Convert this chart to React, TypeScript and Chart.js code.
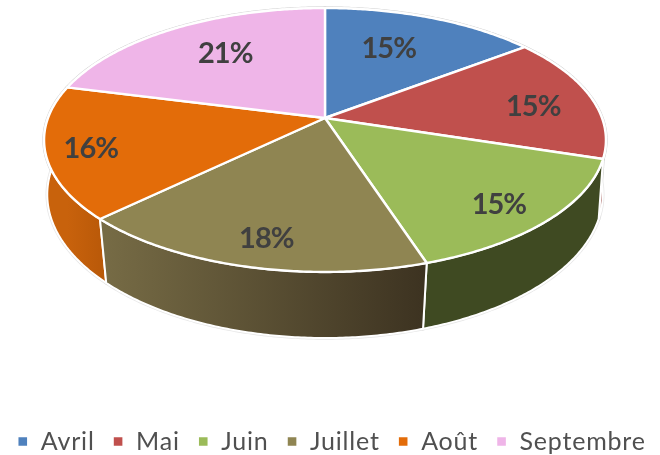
import React, { useEffect, useRef } from "react";
import { Chart, registerables } from "chart.js";

Chart.register(...registerables);

const months = ["Avril", "Mai", "Juin", "Juillet", "Août", "Septembre"];
const shares = [14.6, 15.3, 15.1, 17.75, 16.25, 21];
const topColors = ["#4F81BD", "#C0504D", "#9BBB59", "#8F8552", "#E36C09", "#EFB5E8"];
const wallStart = ["#3F6290", "#93403D", "#3F4A22", "#766B45", "#C8620C", "#B88AB0"];
const wallEnd = ["#3F6290", "#93403D", "#3F4A22", "#3D3321", "#B85808", "#B88AB0"];

// Perspective of the tilted disc
const CX = 325;
type Rim = { a: number; b: number; c: number; p: number };
const TOP: Rim = { a: 277, b: 128.3, c: 118, p: -1 / 6 };
const BOTTOM: Rim = { a: 275, b: 140.7, c: 174.4, p: -0.14 };
const LABEL_RADIUS = 0.7;
const LABEL_NUDGE: [number, number][] = [
  [-14, 4],
  [21, 4],
  [24, 18],
  [-6, 22],
  [-41, 7],
  [9, 1],
];

function project(rim: Rim, angle: number, r = 1): [number, number] {
  const x = Math.cos(angle) * r;
  const y = Math.sin(angle) * r;
  const d = 1 + rim.p * y;
  return [CX + (rim.a * x) / d, rim.c + (rim.b * y) / d];
}

function rimPath(rim: Rim, from: number, to: number): [number, number][] {
  const n = Math.max(2, Math.ceil(Math.abs(to - from) / 0.01));
  const pts: [number, number][] = [];
  for (let i = 0; i <= n; i++) pts.push(project(rim, from + ((to - from) * i) / n));
  return pts;
}

function trace(ctx: CanvasRenderingContext2D, pts: [number, number][]) {
  ctx.beginPath();
  pts.forEach(([x, y], i) => (i ? ctx.lineTo(x, y) : ctx.moveTo(x, y)));
  ctx.closePath();
}

const discPlugin = {
  id: "disc",
  beforeLayout(chart: any) {
    chart.ctx.letterSpacing = "0.8px";
  },
  beforeDatasetsDraw(chart: any) {
    const ctx: CanvasRenderingContext2D = chart.ctx;
    const arcs: any[] = chart.getDatasetMeta(0).data;
    ctx.save();
    ctx.lineJoin = "round";

    const walls = arcs.map((arc, i) => {
      const top = rimPath(TOP, arc.startAngle, arc.endAngle);
      const bottom = rimPath(BOTTOM, arc.endAngle, arc.startAngle);
      return { i, pts: [...top, ...bottom], mid: Math.sin((arc.startAngle + arc.endAngle) / 2) };
    });
    const faces = arcs.map((arc) => [
      project(TOP, 0, 0),
      ...rimPath(TOP, arc.startAngle, arc.endAngle),
    ] as [number, number][]);

    // faint outer contour
    ctx.strokeStyle = "rgba(170,170,170,0.3)";
    ctx.lineWidth = 3.4;
    walls.forEach((w) => {
      trace(ctx, w.pts);
      ctx.stroke();
    });
    faces.forEach((f) => {
      trace(ctx, f);
      ctx.stroke();
    });

    // walls, far to near
    [...walls]
      .sort((p, q) => p.mid - q.mid)
      .forEach((w) => {
        const arc = arcs[w.i];
        const a = project(BOTTOM, arc.startAngle);
        const b = project(BOTTOM, arc.endAngle);
        const grad = ctx.createLinearGradient(Math.min(a[0], b[0]), 0, Math.max(a[0], b[0]), 0);
        grad.addColorStop(0, wallStart[w.i]);
        grad.addColorStop(1, wallEnd[w.i]);
        ctx.fillStyle = grad;
        ctx.strokeStyle = "#FFFFFF";
        ctx.lineWidth = 2;
        trace(ctx, w.pts);
        ctx.fill();
        ctx.stroke();
      });

    // top faces
    arcs.forEach((arc, i) => {
      ctx.fillStyle = arc.options.backgroundColor;
      ctx.strokeStyle = arc.options.borderColor;
      ctx.lineWidth = arc.options.borderWidth;
      trace(ctx, faces[i]);
      ctx.fill();
      ctx.stroke();
    });

    // value labels
    ctx.letterSpacing = "-1px";
    ctx.font = "bold 29px Lato";
    ctx.fillStyle = "#404040";
    ctx.textAlign = "center";
    ctx.textBaseline = "middle";
    const values: number[] = chart.data.datasets[0].data;
    arcs.forEach((arc, i) => {
      const [x, y] = project(TOP, (arc.startAngle + arc.endAngle) / 2, LABEL_RADIUS);
      ctx.fillText(`${Math.round(values[i])}%`, x + LABEL_NUDGE[i][0], y + LABEL_NUDGE[i][1]);
    });
    ctx.restore();
    return false;
  },
};

export default function App() {
  const ref = useRef<HTMLCanvasElement>(null);
  useEffect(() => {
    const chart = new Chart(ref.current!, {
      type: "pie",
      data: {
        labels: months,
        datasets: [
          {
            data: shares,
            backgroundColor: topColors,
            borderColor: "#FFFFFF",
            borderWidth: 2.4,
          },
        ],
      },
      options: {
        responsive: false,
        animation: false,
        events: [],
        layout: { padding: { bottom: -9, left: -17, right: -20 } },
        plugins: {
          tooltip: { enabled: false },
          legend: {
            position: "bottom",
            labels: {
              boxWidth: 11,
              boxHeight: 11,
              padding: 18,
              color: "#505050",
              font: { family: "Lato", size: 25 },
            },
          },
        },
      },
      plugins: [discPlugin],
    } as any);
    return () => chart.destroy();
  }, []);
  return (
    <div style={{ position: "fixed", left: 0, top: 0, width: 660, height: 455, background: "#fff" }}>
      <canvas ref={ref} width={660} height={455} style={{ display: "block" }} />
    </div>
  );
}
